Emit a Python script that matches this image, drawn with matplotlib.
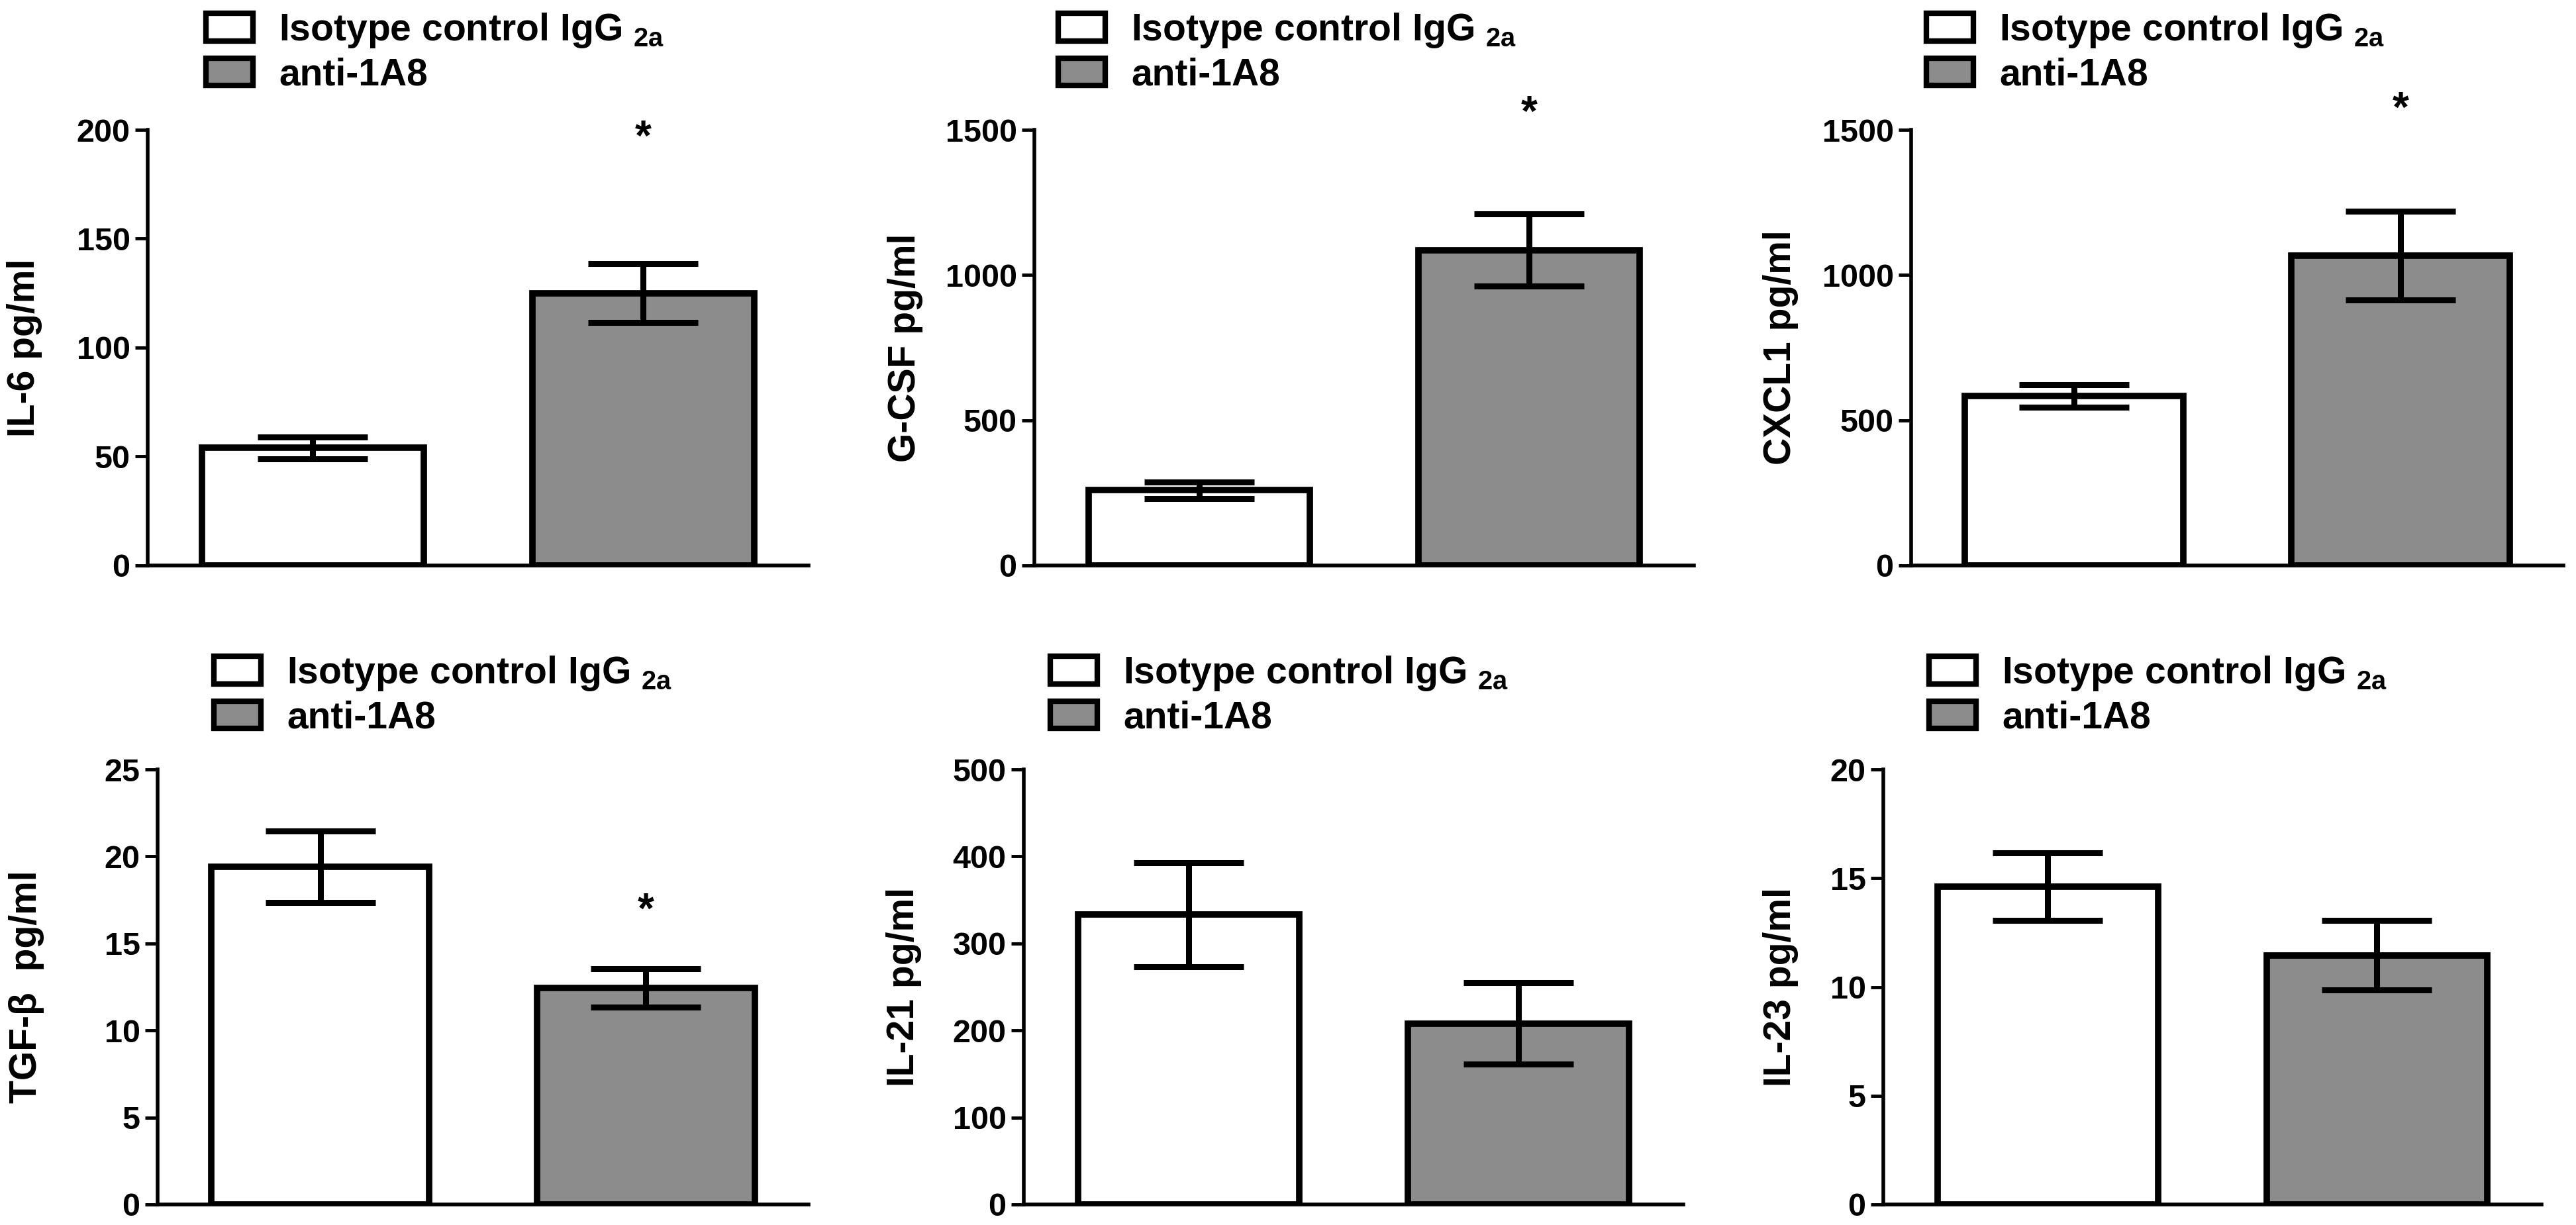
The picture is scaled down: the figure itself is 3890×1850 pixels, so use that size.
import matplotlib
matplotlib.use("Agg")
import matplotlib.pyplot as plt
from matplotlib.patches import Patch

W, H = 3891, 1850
DPI = 100

# values (mean, error)
cytokines = ["IL-6", "G-CSF", "CXCL1", "TGF-β", "IL-21", "IL-23"]
ylabels = ["IL-6 pg/ml", "G-CSF pg/ml", "CXCL1 pg/ml", "TGF-β  pg/ml", "IL-21 pg/ml", "IL-23 pg/ml"]
groups = ["Isotype control IgG $_{2a}$", "anti-1A8"]
isotype_mean = [54, 259, 583, 19.4, 333, 14.6]
isotype_err = [5, 28, 39, 2.05, 60, 1.55]
anti_mean = [125, 1086, 1066, 12.45, 208, 11.45]
anti_err = [13.5, 125, 153, 1.1, 47, 1.6]
y_max = [200, 1500, 1500, 25, 500, 20]
y_step = [50, 500, 500, 5, 100, 5]
star_y = [202, 1598, 1612, 17.6, None, None]  # '*' above anti-1A8 bar

GRAY = "#8c8c8c"

# layout in pixels of the full image: (left, top, right, bottom) of each plot area
axes_px = [(223, 196, 1221, 854), (1562, 196, 2558, 854), (2886, 196, 3871, 854),
           (238, 1162, 1221, 1819), (1546, 1162, 2542, 1819), (2844, 1162, 3838, 1819)]
ylabel_x = [37, 1367, 2689, 40, 1365, 2689]
legend_xy = [(311, 17), (1598, 17), (2909, 17), (323, 988), (1586, 988), (2913, 988)]

plt.rcParams["font.family"] = ["Liberation Sans", "DejaVu Sans"]
plt.rcParams["font.weight"] = "bold"
plt.rcParams["mathtext.fontset"] = "custom"
plt.rcParams["mathtext.rm"] = "Liberation Sans:bold"
plt.rcParams["mathtext.bf"] = "Liberation Sans:bold"
plt.rcParams["mathtext.default"] = "bf"


def draw_panel(fig, i):
    l, t, r, b = axes_px[i]
    ax = fig.add_axes([l / W, 1 - b / H, (r - l) / W, (b - t) / H])

    x = [0, 1]
    means = [isotype_mean[i], anti_mean[i]]
    errs = [isotype_err[i], anti_err[i]]
    ax.bar(x, means, width=0.67, color=["white", GRAY], edgecolor="black",
           linewidth=7, zorder=2)
    ax.errorbar(x, means, yerr=errs, fmt="none", ecolor="black", elinewidth=6.5,
                capsize=60, capthick=6.5, zorder=3)

    if star_y[i] is not None:
        fs = 46
        ax.annotate("*", (1, star_y[i]), xytext=(0, -0.58 * fs), textcoords="offset points",
                    ha="center", va="baseline", fontsize=fs, fontweight="bold",
                    annotation_clip=False)

    ax.set_xlim(-0.5, 1.5)
    ax.set_ylim(0, y_max[i])
    ax.set_yticks(range(0, y_max[i] + 1, y_step[i]))
    ax.set_xticks([])
    for s in ("top", "right"):
        ax.spines[s].set_visible(False)
    for s in ("left", "bottom"):
        ax.spines[s].set_linewidth(4)
    ax.tick_params(axis="y", length=14, width=3.5, labelsize=35, pad=5)

    ax.set_ylabel(ylabels[i], fontsize=41, fontweight="bold")
    ax.yaxis.label.set_va("center")
    ax.yaxis.set_label_coords((ylabel_x[i] - l) / (r - l), 0.5)

    handles = [Patch(facecolor="white", edgecolor="black", linewidth=6),
               Patch(facecolor=GRAY, edgecolor="black", linewidth=6)]
    lx, ly = legend_xy[i]
    ax.legend(handles, groups, loc="upper left", bbox_to_anchor=(lx / W, 1 - ly / H),
              bbox_transform=fig.transFigure, frameon=False, fontsize=41,
              handlelength=1.25, handleheight=0.75, handletextpad=0.68,
              borderpad=0, borderaxespad=0, labelspacing=0.2)


def main():
    fig = plt.figure(figsize=(W / DPI, H / DPI), dpi=DPI)
    for i in range(len(cytokines)):
        draw_panel(fig, i)
    fig.savefig("out.png", dpi=DPI)


if __name__ == "__main__":
    main()
